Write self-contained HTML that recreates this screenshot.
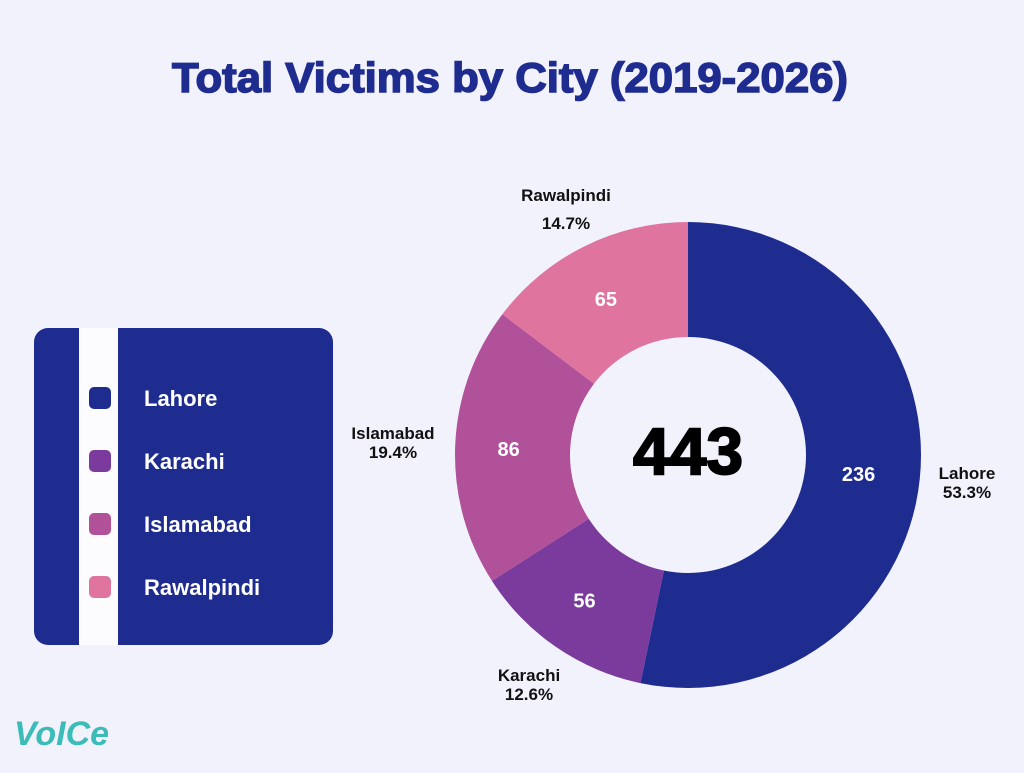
<!DOCTYPE html>
<html><head><meta charset="utf-8"><style>
html,body{margin:0;padding:0;background:#f2f2fd;}
body{width:1024px;height:768px;overflow:hidden;font-family:"Liberation Sans",sans-serif;}
</style></head><body>
<svg width="1024" height="768" viewBox="0 0 1024 768">
<rect width="1024" height="768" fill="#f2f2fd"/>
<text x="510" y="92" text-anchor="middle" font-size="42" font-weight="900" fill="#1f2c8f" font-family="Liberation Sans, sans-serif" stroke="#1f2c8f" stroke-width="1.5" textLength="676" lengthAdjust="spacingAndGlyphs">Total Victims by City (2019-2026)</text>
<g id="legend">
<rect x="34" y="328" width="299" height="317" rx="14" fill="#1f2c8f"/>
<rect x="79" y="328" width="39" height="317" fill="#fcfcff"/>
</g>
<g id="pie"></g>
<text x="688" y="474" text-anchor="middle" font-size="66" font-weight="900" fill="#000" stroke="#000" stroke-width="2">443</text>
<g>
<text x="14" y="745" font-size="34" font-weight="bold" fill="#3bbcb8" font-style="italic">VoICe</text>
</g>
</svg>
<script>
const cities = ["Lahore","Karachi","Islamabad","Rawalpindi"];
const values = [236,56,86,65];
const percentLabels = ["53.3%","12.6%","19.4%","14.7%"];
const colors = ["#1f2c8f","#7a3b9c","#b0519a","#df749e"];
const NS="http://www.w3.org/2000/svg";
const cx=688, cy=455, R=233, r=118;
const total=values.reduce((a,b)=>a+b,0);
const pie=document.getElementById('pie');
const legend=document.getElementById('legend');
function pt(a,rad){return [cx+rad*Math.sin(a), cy-rad*Math.cos(a)];}
let a0=0;
const outerLabelPos=[[967,479],[529,681],[393,439],[566,201]];
values.forEach((v,i)=>{
  const a1=a0+v/total*2*Math.PI;
  const large=(a1-a0)>Math.PI?1:0;
  const [x0,y0]=pt(a0,R),[x1,y1]=pt(a1,R),[x2,y2]=pt(a1,r),[x3,y3]=pt(a0,r);
  const p=document.createElementNS(NS,'path');
  p.setAttribute('d',`M${x0},${y0}A${R},${R} 0 ${large} 1 ${x1},${y1}L${x2},${y2}A${r},${r} 0 ${large} 0 ${x3},${y3}Z`);
  p.setAttribute('fill',colors[i]);
  
  
  pie.appendChild(p);
  const am=(a0+a1)/2;
  const [tx,ty]=pt(am,(R+r)/2);
  const t=document.createElementNS(NS,'text');
  t.setAttribute('x',tx-4);t.setAttribute('y',ty+8);
  t.setAttribute('text-anchor','middle');t.setAttribute('font-size','20');
  t.setAttribute('font-weight','bold');t.setAttribute('fill','#fff');
  t.textContent=v;
  
  
  pie.appendChild(t);
  const [lx,ly]=outerLabelPos[i];
  const ot=document.createElementNS(NS,'text');
  ot.setAttribute('x',lx);ot.setAttribute('y',ly);
  ot.setAttribute('text-anchor','middle');ot.setAttribute('font-size','17');
  ot.setAttribute('font-weight','bold');ot.setAttribute('fill','#111');
  const s1=document.createElementNS(NS,'tspan');s1.setAttribute('x',lx);s1.textContent=cities[i];
  const s2=document.createElementNS(NS,'tspan');s2.setAttribute('x',lx);s2.setAttribute('dy','19');s2.textContent=percentLabels[i];
  if(i===3) s2.setAttribute('dy','28');
  ot.appendChild(s1);ot.appendChild(s2);
  
  
  pie.appendChild(ot);
  a0=a1;
  const ly2=398+i*63;
  const sw=document.createElementNS(NS,'rect');
  sw.setAttribute('x',89);sw.setAttribute('y',ly2-11);sw.setAttribute('width',22);sw.setAttribute('height',22);
  sw.setAttribute('rx',5);sw.setAttribute('fill',colors[i]);
  
  
  legend.appendChild(sw);
  const lt=document.createElementNS(NS,'text');
  lt.setAttribute('x',144);lt.setAttribute('y',ly2+8);lt.setAttribute('font-size','22');
  lt.setAttribute('font-weight','bold');lt.setAttribute('fill','#fff');
  lt.textContent=cities[i];
  
  
  legend.appendChild(lt);
});
</script>
</body></html>
